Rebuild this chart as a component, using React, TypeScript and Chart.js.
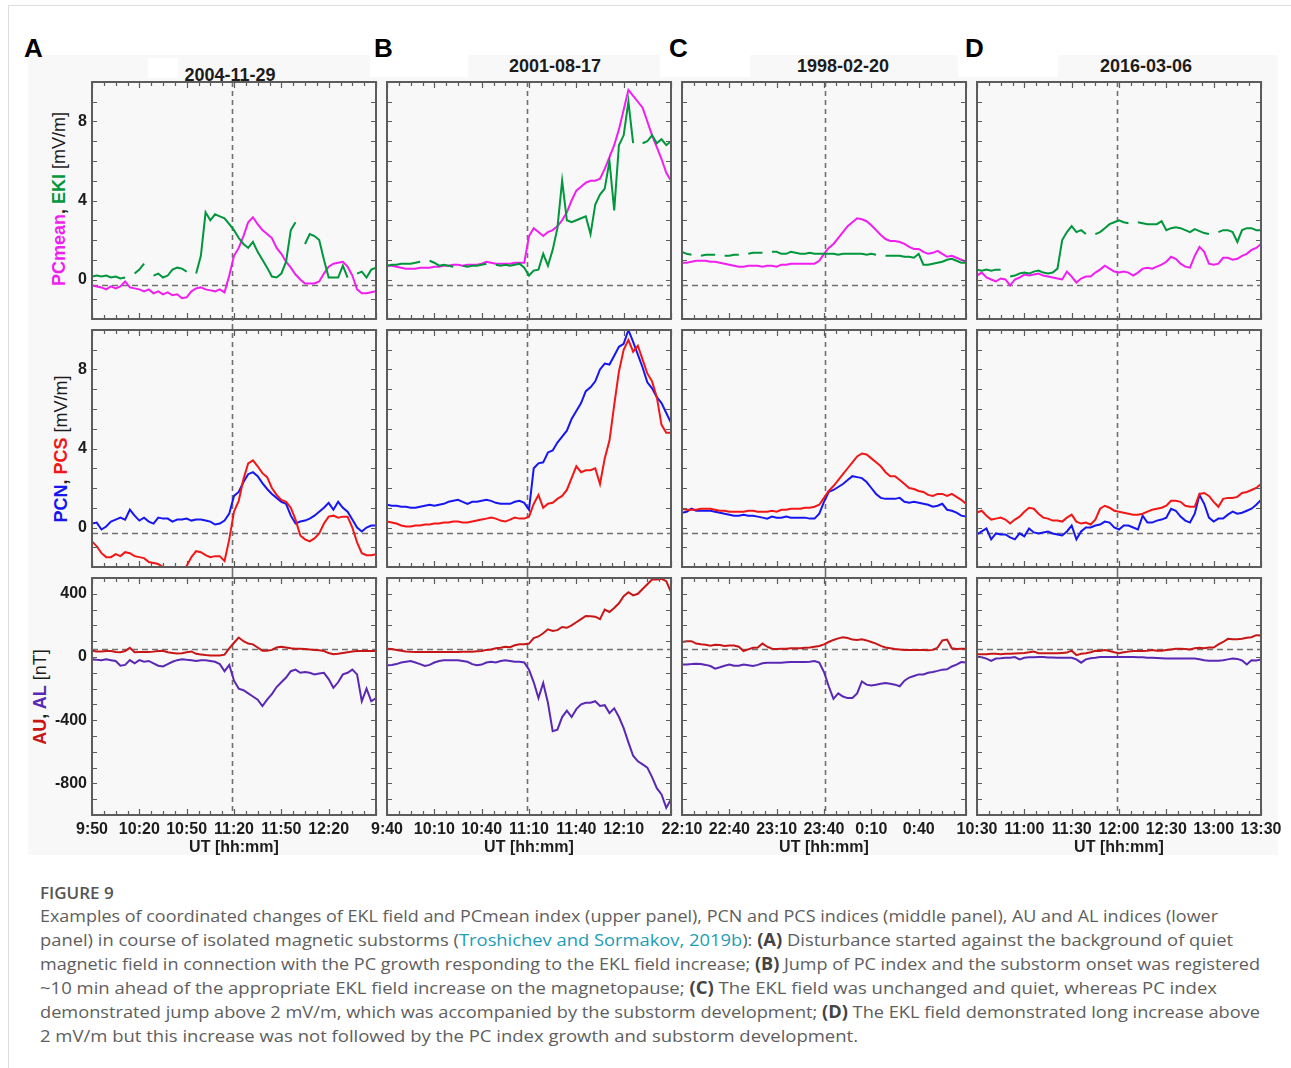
import React, { useEffect, useLayoutEffect, useRef } from 'react';
import { Chart, registerables } from 'chart.js';

Chart.register(...registerables);
Chart.defaults.font.family = "'Liberation Sans', Arial, Helvetica, sans-serif";

// ---------- sampling of every series ----------
const STEP_MIN = 3; // minutes between samples
const SPAN_MIN = 180; // each panel covers three hours
const LABEL_STEP_MIN = 30;
const MINOR_TICK_MIN = 7.5;

// ---------- per-event labels ----------
const panelLetters = ['A', 'B', 'C', 'D'];
const eventDates = ['2004-11-29', '2001-08-17', '1998-02-20', '2016-03-06'];
const timeLabelsA = ['9:50', '10:20', '10:50', '11:20', '11:50', '12:20', ''];
const timeLabelsB = ['9:40', '10:10', '10:40', '11:10', '11:40', '12:10', ''];
const timeLabelsC = ['22:10', '22:40', '23:10', '23:40', '0:10', '0:40', ''];
const timeLabelsD = ['10:30', '11:00', '11:30', '12:00', '12:30', '13:00', '13:30'];
const timeLabels = [timeLabelsA, timeLabelsB, timeLabelsC, timeLabelsD];
// substorm onset, minutes after the start of each window
const onsetMinutes = [89, 89, 90.5, 89];

// ---------- y axes ----------
const fieldTickLabels = [0, 4, 8];
const nTTickLabels = [400, 0, -400, -800];
const fieldAxis = { min: -2, max: 10, step: 1, baseline: -0.3 };
const nTAxis = { min: -1000, max: 500, step: 100, baseline: 50 };

// ---------- upper panels: PCmean and EKl [mV/m] ----------
const pcMeanA = [
  -0.3, -0.35, -0.4, -0.5, -0.35, -0.45, -0.35, -0.1, -0.4, -0.45,
  -0.5, -0.6, -0.5, -0.7, -0.6, -0.75, -0.65, -0.8, -0.75, -0.95,
  -0.9, -0.6, -0.45, -0.4, -0.5, -0.55, -0.6, -0.5, -0.65, 0.2,
  1.2, 1.6, 2.2, 2.9, 3.15, 2.8, 2.5, 2.3, 2.1, 1.6,
  1.3, 0.9, 0.6, 0.25, 0.0, -0.2, -0.2, -0.2, -0.1, 0.3,
  0.65, 0.8, 0.85, 0.9, 0.65, 0.2, -0.5, -0.7, -0.7, -0.65,
  -0.6,
];
const eklA = [
  0.15, 0.2, 0.15, 0.2, 0.1, 0.15, 0.05, 0.1, null, 0.3,
  0.5, 0.8, null, 0.2, 0.3, 0.1, 0.2, 0.5, 0.6, 0.55,
  0.4, null, 0.3, 1.2, 3.4, 3.0, 3.3, 3.2, 3.1, 2.8,
  2.5, 2.1, 1.8, 1.6, 1.9, 1.4, 1.0, 0.6, 0.15, 0.1,
  0.3, 0.9, 2.5, 2.9, null, 1.8, 2.3, 2.2, 2.0, 1.0,
  0.1, 0.1, 0.1, 0.7, 0.1, null, 0.3, 0.4, 0.1, 0.5,
  0.6,
];
const pcMeanB = [
  0.7, 0.7, 0.65, 0.6, 0.55, 0.55, 0.55, 0.6, 0.6, 0.6,
  0.65, 0.65, 0.7, 0.7, 0.75, 0.75, 0.7, 0.75, 0.75, 0.75,
  0.8, 0.9, 0.85, 0.8, 0.8, 0.8, 0.8, 0.85, 0.85, 0.85,
  2.2, 2.6, 2.4, 2.2, 2.4, 2.5, 2.7, 3.0, 3.4, 4.0,
  4.5, 4.7, 4.9, 5.0, 5.0, 5.1, 5.6, 6.2, 6.8, 7.6,
  8.6, 9.6, 9.3, 9.0, 8.7, 8.0, 7.3, 6.7, 6.1, 5.4,
  5.0,
];
const eklB = [
  0.7, 0.75, 0.75, 0.8, 0.8, 0.8, 0.85, 0.9, null, 0.95,
  0.85, 0.7, 0.75, 0.7, 0.65, null, 0.7, 0.65, 0.7, 0.7,
  0.75, 0.8, null, 0.75, 0.7, 0.75, 0.7, 0.75, 0.8, 0.6,
  0.2, 0.45, 0.5, 1.3, 0.7, 1.5, 2.6, 5.0, 3.0, 2.9,
  3.0, 3.1, 3.2, 2.3, 3.8, 4.3, 4.6, 6.0, 3.5, 6.8,
  7.3, 9.0, 6.9, null, 6.9, 7.0, 7.3, 6.9, 7.1, 6.8,
  7.0,
];
const pcMeanC = [
  0.85, 0.85, 0.9, 0.95, 0.95, 0.95, 0.9, 0.9, 0.85, 0.8,
  0.75, 0.7, 0.65, 0.65, 0.7, 0.7, 0.7, 0.65, 0.7, 0.7,
  0.65, 0.75, 0.75, 0.8, 0.8, 0.8, 0.8, 0.8, 0.8, 0.95,
  1.3, 1.6, 1.8, 2.1, 2.4, 2.7, 2.9, 3.1, 3.05, 2.95,
  2.75, 2.5, 2.25, 2.05, 1.95, 1.95, 1.9, 1.8, 1.65, 1.55,
  1.55, 1.4, 1.3, 1.35, 1.45, 1.3, 1.15, 1.2, 1.1, 1.0,
  0.9,
];
const eklC = [
  1.4, 1.3, 1.25, null, 1.2, 1.25, 1.25, 1.25, null, 1.2,
  1.2, 1.25, 1.25, null, 1.3, 1.35, 1.35, 1.35, null, 1.4,
  1.4, 1.3, 1.3, 1.4, 1.35, 1.3, 1.3, 1.35, 1.3, 1.3,
  1.3, 1.3, 1.3, 1.25, 1.3, 1.3, 1.3, 1.3, 1.3, 1.25,
  1.3, 1.25, null, 1.2, 1.2, 1.2, 1.2, 1.15, 1.15, 1.1,
  1.3, 0.75, 0.75, 0.8, 0.85, 0.9, 1.0, 1.05, 0.95, 0.85,
  0.85,
];
const pcMeanD = [
  0.2, 0.35, 0.1, 0.0, -0.1, 0.05, 0.0, -0.3, 0.0, 0.1,
  0.25, 0.2, 0.25, 0.3, 0.2, 0.15, 0.1, 0.05, 0.0, 0.4,
  0.15, -0.15, 0.05, 0.15, 0.15, 0.35, 0.5, 0.7, 0.55, 0.4,
  0.35, 0.4, 0.35, 0.2, 0.35, 0.55, 0.6, 0.55, 0.65, 0.75,
  0.9, 1.15, 1.05, 0.8, 0.65, 0.6, 1.2, 1.65, 1.4, 0.8,
  0.75, 0.8, 1.1, 1.1, 1.0, 1.05, 1.2, 1.3, 1.5, 1.6,
  1.8,
];
const eklD = [
  0.5, 0.45, 0.5, 0.45, 0.5, 0.5, null, 0.15, 0.2, 0.3,
  0.35, 0.3, 0.4, 0.45, 0.35, 0.3, 0.35, 0.55, 2.0, 2.4,
  2.7, 2.4, 2.5, 2.3, null, 2.3, 2.4, 2.6, 2.8, 2.9,
  3.0, 2.9, 2.85, null, 2.9, 2.85, 2.8, 2.8, 2.8, 2.95,
  2.5, 2.6, 2.65, 2.6, 2.5, 2.4, 2.55, 2.45, 2.35, 2.3,
  null, 2.4, 2.5, 2.5, 2.4, 1.9, 2.5, 2.6, 2.6, 2.5,
  2.5,
];

// ---------- middle panels: PCN and PCS [mV/m] ----------
const pcnA = [
  0.2, 0.25, -0.1, 0.05, 0.3, 0.4, 0.5, 0.4, 0.9, 0.6,
  0.35, 0.5, 0.3, 0.2, 0.5, 0.45, 0.45, 0.3, 0.4, 0.4,
  0.45, 0.35, 0.4, 0.4, 0.35, 0.3, 0.15, 0.2, 0.35, 0.7,
  1.6, 1.8, 2.3, 2.7, 2.8, 2.6, 2.25, 1.95, 1.7, 1.5,
  1.3, 1.2, 0.6, 0.2, 0.3, 0.35, 0.45, 0.6, 0.8, 1.0,
  1.25, 0.9, 1.3, 1.0, 0.8, 0.4, 0.0, -0.2, 0.0, 0.1,
  0.1,
];
const pcsA = [
  -0.7, -0.95, -1.3, -1.5, -1.5, -1.35, -1.45, -1.25, -1.3, -1.45,
  -1.5, -1.55, -1.75, -1.8, -1.85, -2.0, -2.1, -2.15, -2.15, -2.2,
  -1.95, -1.5, -1.2, -1.25, -1.4, -1.5, -1.45, -1.45, -1.7, -0.6,
  0.8, 1.35, 2.45, 3.25, 3.4, 3.1, 2.75, 2.55, 2.0, 1.65,
  1.4, 1.3, 1.0, 0.4, -0.4, -0.6, -0.7, -0.55, -0.3, 0.2,
  0.55, 0.6, 0.5, 0.55, 0.55, 0.0, -0.75, -1.3, -1.4, -1.4,
  -1.35,
];
const pcnB = [
  1.15, 1.1, 1.1, 1.05, 1.05, 1.0, 1.0, 1.05, 1.1, 1.15,
  1.1, 1.15, 1.2, 1.3, 1.35, 1.4, 1.3, 1.2, 1.3, 1.3,
  1.35, 1.4, 1.35, 1.25, 1.2, 1.2, 1.2, 1.3, 1.35, 1.25,
  0.9, 3.0, 3.25, 3.3, 3.8, 3.9, 4.3, 4.6, 4.9, 5.5,
  5.9, 6.3, 6.9, 7.1, 7.4, 8.0, 8.3, 8.25, 8.7, 9.15,
  9.3, 10.0, 9.4, 8.75, 8.1, 7.35, 7.05, 6.6, 6.3, 5.8,
  5.3,
];
const pcsB = [
  0.3, 0.25, 0.2, 0.1, 0.05, 0.05, 0.1, 0.1, 0.15, 0.15,
  0.2, 0.2, 0.25, 0.25, 0.3, 0.3, 0.25, 0.25, 0.3, 0.35,
  0.4, 0.45, 0.5, 0.45, 0.35, 0.3, 0.4, 0.5, 0.45, 0.45,
  0.55, 1.2, 1.65, 1.0, 1.2, 1.25, 1.45, 1.6, 1.9, 2.5,
  3.1, 2.8, 2.9, 2.9, 3.0, 2.2, 3.5, 4.4, 6.2, 7.9,
  9.0, 9.5, 8.9, 9.2, 8.5, 7.8, 7.4, 6.6, 5.2, 4.8,
  4.8,
];
const pcnC = [
  0.75, 0.8, 0.95, 0.85, 0.85, 0.85, 0.85, 0.8, 0.75, 0.7,
  0.65, 0.6, 0.6, 0.65, 0.6, 0.6, 0.55, 0.5, 0.45, 0.55,
  0.5, 0.5, 0.55, 0.5, 0.5, 0.5, 0.5, 0.45, 0.45, 0.7,
  1.3, 1.8, 1.9, 2.05, 2.2, 2.4, 2.6, 2.55, 2.5, 2.3,
  2.0, 1.7, 1.5, 1.45, 1.45, 1.45, 1.5, 1.3, 1.25, 1.3,
  1.25, 1.2, 1.15, 1.05, 1.1, 1.2, 0.9, 0.85, 0.75, 0.6,
  0.55,
];
const pcsC = [
  0.95, 0.9, 0.9, 0.9, 0.95, 0.95, 0.95, 0.9, 0.85, 0.85,
  0.8, 0.8, 0.8, 0.8, 0.85, 0.85, 0.8, 0.8, 0.8, 0.85,
  0.8, 0.9, 0.9, 0.95, 0.95, 0.95, 1.0, 1.0, 1.05, 1.15,
  1.5, 1.85, 2.1, 2.4, 2.7, 3.0, 3.3, 3.6, 3.75, 3.7,
  3.5, 3.3, 3.1, 2.8, 2.6, 2.6, 2.4, 2.2, 2.0, 1.95,
  1.85, 1.8, 1.65, 1.6, 1.7, 1.7, 1.6, 1.7, 1.55, 1.4,
  1.2,
];
const pcnD = [
  -0.35, -0.2, -0.05, -0.6, -0.3, -0.35, -0.35, -0.5, -0.6, -0.3,
  -0.45, -0.05, -0.25, -0.3, -0.25, -0.2, -0.3, -0.35, -0.4, -0.2,
  0.1, -0.6, -0.2, 0.0, 0.0, 0.1, 0.15, 0.3, 0.25, 0.0,
  -0.1, 0.1, 0.1, 0.0, -0.1, 0.6, 0.25, 0.25, 0.35, 0.4,
  0.5, 0.95, 0.85, 0.55, 0.35, 0.25, 0.7, 1.65, 1.2, 0.5,
  0.3, 0.45, 0.45, 0.65, 0.8, 0.7, 0.75, 0.85, 0.95, 1.15,
  1.4,
];
const pcsD = [
  0.75, 0.85, 0.6, 0.4, 0.45, 0.5, 0.4, 0.2, 0.4, 0.55,
  0.8, 1.0, 0.95, 0.7, 0.5, 0.45, 0.35, 0.35, 0.3, 0.5,
  0.65, 0.3, 0.2, 0.25, 0.15, 0.4, 0.95, 1.1, 1.0, 0.85,
  0.8, 0.75, 0.7, 0.65, 0.65, 0.7, 0.8, 0.9, 0.95, 1.0,
  1.1, 1.35, 1.35, 1.3, 1.1, 1.05, 1.05, 1.7, 1.75, 1.6,
  1.3, 1.05, 1.45, 1.5, 1.5, 1.55, 1.75, 1.8, 1.9, 2.0,
  2.2,
];

// ---------- lower panels: AU and AL [nT] ----------
const auA = [
  40, 35, 35, 38, 38, 32, 30, 38, 58, 30,
  32, 32, 32, 34, 38, 40, 30, 26, 22, 24,
  30, 35, 20, 16, 12, 10, 10, 10, 15, 55,
  90, 123, 100, 85, 80, 60, 40, 40, 45, 60,
  65, 60, 55, 52, 52, 50, 48, 45, 42, 38,
  25, 18, 20, 25, 30, 35, 38, 38, 38, 38,
  38,
];
const alA = [
  -15, -18, -20, -15, -20, -25, -55, -50, -20, -40,
  -20, -30, -25, -40, -55, -60, -45, -30, -20, -15,
  -18, -20, -25, -20, -20, -25, -30, -45, -90, -50,
  -150, -200, -210, -230, -250, -270, -310, -270, -235, -190,
  -160, -130, -90, -80, -100, -95, -100, -110, -105, -100,
  -140, -195, -160, -110, -100, -80, -110, -280, -200, -280,
  -260,
];
const auB = [
  52, 50, 45, 40, 35, 33, 32, 32, 32, 32,
  32, 32, 32, 32, 32, 32, 33, 33, 34, 36,
  38, 45, 48, 55, 58, 65, 62, 74, 80, 80,
  85, 120, 130, 150, 175, 165, 170, 190, 185, 200,
  220, 240, 260, 258, 255, 240, 300, 285, 310, 340,
  385, 410, 390, 400, 430, 460, 490, 490, 495, 480,
  410,
];
const alB = [
  -53, -50, -45, -35, -30, -25, -35, -45, -57, -50,
  -35, -25, -20, -20, -20, -20, -25, -30, -45, -52,
  -48, -35, -30, -35, -25, -20, -25, -30, -30, -35,
  -80, -160, -260, -165, -290, -470, -460, -380, -340, -380,
  -330, -300, -290, -290, -280, -310, -305, -355, -325, -380,
  -450, -540, -625, -660, -680, -700, -760, -830, -870, -955,
  -900,
];
const auC = [
  95, 100, 100, 85, 80, 78, 72, 78, 76, 70,
  72, 72, 65, 38, 48, 58, 60, 85, 65, 52,
  50, 52, 52, 55, 55, 55, 58, 60, 65, 70,
  80, 95, 108, 118, 125, 120, 110, 108, 112, 105,
  95, 85, 70, 60, 55, 50, 48, 45, 45, 45,
  45, 45, 42, 45, 60, 105, 110, 55, 50, 52,
  52,
];
const alC = [
  -47, -47, -45, -42, -45, -50, -57, -74, -65, -55,
  -47, -55, -55, -47, -52, -57, -50, -40, -36, -36,
  -36, -36, -33, -32, -32, -32, -32, -30, -25, -35,
  -95, -185, -265, -230, -250, -260, -260, -230, -155, -175,
  -180, -175, -170, -165, -170, -175, -185, -150, -130, -120,
  -110, -110, -100, -95, -88, -80, -78, -60, -48, -32,
  -35,
];
const auD = [
  17, 17, 17, 20, 20, 18, 20, 20, 22, 24,
  26, 30, 35, 24, 24, 24, 24, 24, 26, 28,
  40, 12, 20, 24, 30, 40, 38, 44, 38, 30,
  24, 30, 34, 38, 38, 38, 40, 44, 40, 40,
  44, 48, 52, 52, 50, 48, 55, 58, 55, 60,
  60, 80, 95, 115, 112, 112, 115, 122, 125, 138,
  136,
];
const alD = [
  2, -2, -10, -25, -10, -8, -5, -5, 0, -15,
  -5, -2, -2, 0, 0, -3, -3, -5, -5, -5,
  -5, -15, -36, -15, -8, -5, 0, 0, 0, 0,
  0, 0, 0, 0, -2, -2, -4, -4, -6, -8,
  -10, -10, -10, -10, -10, -10, -10, -14, -20, -24,
  -24, -24, -20, -15, -10, -12, -22, -47, -20, -22,
  -15,
];

// ---------- styling ----------
const COLOR = {
  pcMean: '#f01ef0',
  ekl: '#00963c',
  pcn: '#1616f2',
  pcs: '#f21616',
  au: '#c81616',
  al: '#5a28b4',
  text: '#1c1c1c',
  dash: '#707070',
  frame: '#5c5c5c',
  figureBg: '#f8f8f8',
};

const TICK_FONT = { family: "'Liberation Sans', Arial, sans-serif", size: 16, weight: 'bold' as const };

// panel geometry (plot-area rectangles on the page)
const PLOT_LEFT = [92, 387, 682, 977];
const PLOT_TOP = [82, 330, 578];
const PLOT_W = 284;
const PLOT_H = 237;

// which series go in each row and column (first one is drawn on top)
const panelSeries = [
  [
    [{ values: eklA, color: COLOR.ekl }, { values: pcMeanA, color: COLOR.pcMean }],
    [{ values: eklB, color: COLOR.ekl }, { values: pcMeanB, color: COLOR.pcMean }],
    [{ values: eklC, color: COLOR.ekl }, { values: pcMeanC, color: COLOR.pcMean }],
    [{ values: eklD, color: COLOR.ekl }, { values: pcMeanD, color: COLOR.pcMean }],
  ],
  [
    [{ values: pcsA, color: COLOR.pcs }, { values: pcnA, color: COLOR.pcn }],
    [{ values: pcsB, color: COLOR.pcs }, { values: pcnB, color: COLOR.pcn }],
    [{ values: pcsC, color: COLOR.pcs }, { values: pcnC, color: COLOR.pcn }],
    [{ values: pcsD, color: COLOR.pcs }, { values: pcnD, color: COLOR.pcn }],
  ],
  [
    [{ values: auA, color: COLOR.au }, { values: alA, color: COLOR.al }],
    [{ values: auB, color: COLOR.au }, { values: alB, color: COLOR.al }],
    [{ values: auC, color: COLOR.au }, { values: alC, color: COLOR.al }],
    [{ values: auD, color: COLOR.au }, { values: alD, color: COLOR.al }],
  ],
];

// Frame, inward tick marks and dashed reference lines of one panel.
const panelFrame = {
  id: 'panelFrame',
  beforeDraw(chart: any, _args: any, opts: any) {
    const { ctx, chartArea: a } = chart;
    ctx.save();
    ctx.fillStyle = opts.background;
    ctx.fillRect(a.left, a.top, a.right - a.left, a.bottom - a.top);
    ctx.restore();
  },
  beforeDatasetsDraw(chart: any, _args: any, opts: any) {
    const { ctx, chartArea: a, scales } = chart;
    const x = scales.x;
    const y = scales.y;
    ctx.save();
    ctx.strokeStyle = opts.dashColor;
    ctx.lineWidth = 1.6;
    ctx.setLineDash([6, 4]);
    const yb = Math.round(y.getPixelForValue(opts.baseline)) + 0.5;
    ctx.beginPath();
    ctx.moveTo(a.left, yb);
    ctx.lineTo(a.right, yb);
    ctx.stroke();
    ctx.setLineDash([5, 4]);
    const xo = Math.round(x.getPixelForValue(opts.onset)) + 0.5;
    ctx.beginPath();
    ctx.moveTo(xo, a.top - opts.extendTop);
    ctx.lineTo(xo, a.bottom + opts.extendBottom);
    ctx.stroke();
    ctx.restore();
  },
  afterDatasetsDraw(chart: any, _args: any, opts: any) {
    const { ctx, chartArea: a, scales } = chart;
    const x = scales.x;
    const y = scales.y;
    ctx.save();
    ctx.strokeStyle = opts.frameColor;
    ctx.lineWidth = 1.2;
    ctx.beginPath();
    for (let m = x.min; m <= x.max + 1e-6; m += opts.minorStep) {
      const px = Math.round(x.getPixelForValue(m)) + 0.5;
      const len = Math.abs(m % opts.majorStep) < 1e-6 ? 6 : 4;
      ctx.moveTo(px, a.top);
      ctx.lineTo(px, a.top + len);
      ctx.moveTo(px, a.bottom);
      ctx.lineTo(px, a.bottom - len);
    }
    for (let v = y.min; v <= y.max + 1e-6; v += opts.yStep) {
      const py = Math.round(y.getPixelForValue(v)) + 0.5;
      ctx.moveTo(a.left, py);
      ctx.lineTo(a.left + 5, py);
      ctx.moveTo(a.right, py);
      ctx.lineTo(a.right - 5, py);
    }
    ctx.stroke();
    ctx.lineWidth = 2;
    ctx.strokeRect(a.left, a.top, a.right - a.left, a.bottom - a.top);
    ctx.restore();
  },
};

function Panel({ col, row }: { col: number; row: number }) {
  const ref = useRef<HTMLCanvasElement>(null);
  const isLeft = col === 0;
  const isBottom = row === 2;
  const yAxisW = isLeft ? 44 : 0;
  const xAxisH = isBottom ? 44 : 0;
  const padL = 24;
  const padR = 24;
  const padT = row === 0 ? 2 : 6;
  const padB = isBottom ? 4 : 6;
  const width = padL + yAxisW + PLOT_W + padR;
  const height = padT + PLOT_H + xAxisH + padB;
  const left = PLOT_LEFT[col] - yAxisW - padL;
  const top = PLOT_TOP[row] - padT;

  useEffect(() => {
    if (!ref.current) return;
    const axis = isBottom ? nTAxis : fieldAxis;
    const tickLabels = isBottom ? nTTickLabels : fieldTickLabels;
    const labels = timeLabels[col];
    const chart = new Chart(ref.current, {
      type: 'line',
      data: {
        datasets: panelSeries[row][col].map((s) => ({
          data: s.values.map((v, i) => ({ x: i * STEP_MIN, y: v })),
          borderColor: s.color,
          backgroundColor: s.color,
          borderWidth: 2,
          pointRadius: 0,
          fill: false,
          tension: 0,
          spanGaps: false,
        })),
      },
      options: {
        animation: false,
        responsive: false,
        devicePixelRatio: 1,
        events: [],
        layout: { padding: { left: padL, right: padR, top: padT, bottom: padB } },
        plugins: {
          legend: { display: false },
          tooltip: { enabled: false },
          panelFrame: {
            background: COLOR.figureBg,
            dashColor: COLOR.dash,
            frameColor: COLOR.frame,
            baseline: axis.baseline,
            onset: onsetMinutes[col],
            extendTop: row === 0 ? 0 : 6,
            extendBottom: row === 2 ? 0 : 6,
            minorStep: MINOR_TICK_MIN,
            majorStep: LABEL_STEP_MIN,
            yStep: axis.step,
          },
        } as any,
        scales: {
          x: {
            type: 'linear',
            min: 0,
            max: SPAN_MIN,
            afterFit: (s: any) => {
              s.height = xAxisH;
              s.paddingLeft = 0;
              s.paddingRight = 0;
              s.paddingTop = 0;
              s.paddingBottom = 0;
            },
            grid: { display: false, drawTicks: false },
            border: { display: false },
            ticks: {
              display: isBottom,
              stepSize: LABEL_STEP_MIN,
              autoSkip: false,
              maxRotation: 0,
              minRotation: 0,
              padding: 5,
              color: COLOR.text,
              font: TICK_FONT,
              callback: (v: any) => labels[Math.round(Number(v) / LABEL_STEP_MIN)] ?? '',
            },
            title: {
              display: isBottom,
              text: 'UT [hh:mm]',
              color: COLOR.text,
              font: TICK_FONT,
              padding: { top: 0, bottom: 2 },
            },
          },
          y: {
            type: 'linear',
            min: axis.min,
            max: axis.max,
            afterFit: (s: any) => {
              s.width = yAxisW;
              s.paddingLeft = 0;
              s.paddingRight = 0;
              s.paddingTop = 0;
              s.paddingBottom = 0;
            },
            grid: { display: false, drawTicks: false },
            border: { display: false },
            ticks: {
              display: isLeft,
              stepSize: axis.step,
              autoSkip: false,
              padding: 5,
              color: COLOR.text,
              font: TICK_FONT,
              callback: (v: any) => (tickLabels.includes(Number(v)) ? String(v) : ''),
            },
          },
        } as any,
      },
      plugins: [panelFrame as any],
    });
    return () => chart.destroy();
  }, []);

  return (
    <canvas
      ref={ref}
      width={width}
      height={height}
      style={{ position: 'absolute', left, top, width, height }}
    />
  );
}

// Caption line, stretched to its measured column width.
function CaptionLine({ top, width, children }: { top: number; width: number; children: any }) {
  const ref = useRef<HTMLDivElement>(null);
  useLayoutEffect(() => {
    const el = ref.current;
    if (!el) return;
    el.style.transform = 'none';
    const w = el.getBoundingClientRect().width;
    if (w > 0) el.style.transform = `scaleX(${width / w})`;
  }, [width]);
  return (
    <div
      ref={ref}
      style={{
        position: 'absolute',
        left: 40,
        top,
        whiteSpace: 'nowrap',
        transformOrigin: '0 0',
        lineHeight: '24px',
        fontSize: 17,
        color: '#5e5e5e',
        fontFamily: "'Open Sans', 'Noto Sans', sans-serif",
      }}
    >
      {children}
    </div>
  );
}

const B = ({ children }: { children: any }) => <b style={{ fontWeight: 700, color: '#444' }}>{children}</b>;

const titleCenters = [
  { x: 230, y: 75 },
  { x: 555, y: 66 },
  { x: 843, y: 66 },
  { x: 1146, y: 66 },
];
const letterLeft = [24, 374, 669, 965];
const whiteBoxes = [
  { x: 148, y: 58, w: 30, h: 20 },
  { x: 370, y: 55, w: 98, h: 22 },
  { x: 660, y: 55, w: 90, h: 22 },
  { x: 958, y: 55, w: 100, h: 22 },
];

function RotatedLabel({ cx, cy, children }: { cx: number; cy: number; children: any }) {
  return (
    <div
      style={{
        position: 'absolute',
        left: cx,
        top: cy,
        transform: 'translate(-50%, -50%) rotate(-90deg)',
        whiteSpace: 'nowrap',
        fontSize: 18,
        fontWeight: 700,
        lineHeight: '20px',
        color: COLOR.text,
      }}
    >
      {children}
    </div>
  );
}

export default function App() {
  const cells: any[] = [];
  for (let r = 0; r < 3; r++) for (let c = 0; c < 4; c++) cells.push(<Panel key={`${r}-${c}`} col={c} row={r} />);

  return (
    <div
      style={{
        position: 'absolute',
        left: 0,
        top: 0,
        width: 1291,
        height: 1068,
        overflow: 'hidden',
        background: '#fff',
        fontFamily: "'Liberation Sans', Arial, sans-serif",
      }}
    >
      <div
        style={{
          position: 'absolute',
          left: 8,
          top: 5,
          width: 1300,
          height: 1100,
          borderLeft: '1px solid #dddddd',
          borderTop: '1px solid #dddddd',
        }}
      />
      <div style={{ position: 'absolute', left: 28, top: 55, width: 1250, height: 800, background: COLOR.figureBg }} />
      {whiteBoxes.map((b, i) => (
        <div key={i} style={{ position: 'absolute', left: b.x, top: b.y, width: b.w, height: b.h, background: '#fff' }} />
      ))}

      {panelLetters.map((l, i) => (
        <div
          key={l}
          style={{
            position: 'absolute',
            left: letterLeft[i],
            top: 35,
            fontSize: 26,
            fontWeight: 700,
            lineHeight: '26px',
            color: '#000',
          }}
        >
          {l}
        </div>
      ))}
      {eventDates.map((d, i) => (
        <div
          key={d}
          style={{
            position: 'absolute',
            left: titleCenters[i].x,
            top: titleCenters[i].y,
            transform: 'translate(-50%, -50%)',
            fontSize: 18,
            fontWeight: 700,
            lineHeight: '20px',
            color: COLOR.text,
            whiteSpace: 'nowrap',
          }}
        >
          {d}
        </div>
      ))}

      <RotatedLabel cx={59} cy={199}>
        <span style={{ color: COLOR.pcMean }}>PCmean</span>
        <span>, </span>
        <span style={{ color: COLOR.ekl }}>EKl</span>
        <span style={{ fontWeight: 400 }}> [mV/m]</span>
      </RotatedLabel>
      <RotatedLabel cx={61} cy={449}>
        <span style={{ color: COLOR.pcn }}>PCN</span>
        <span>, </span>
        <span style={{ color: COLOR.pcs }}>PCS</span>
        <span style={{ fontWeight: 400 }}> [mV/m]</span>
      </RotatedLabel>
      <RotatedLabel cx={40} cy={697}>
        <span style={{ color: COLOR.au }}>AU</span>
        <span>, </span>
        <span style={{ color: COLOR.al }}>AL</span>
        <span style={{ fontWeight: 400 }}> [nT]</span>
      </RotatedLabel>

      {cells}

      <div
        style={{
          position: 'absolute',
          left: 40,
          top: 881,
          fontSize: 17,
          lineHeight: '24px',
          fontWeight: 600,
          color: '#555',
          fontFamily: "'Open Sans', 'Noto Sans', sans-serif",
        }}
      >
        FIGURE 9
      </div>
      <CaptionLine top={904} width={1178}>
        Examples of coordinated changes of EKL field and PCmean index (upper panel), PCN and PCS indices (middle panel), AU and AL indices (lower
      </CaptionLine>
      <CaptionLine top={928} width={1193}>
        panel) in course of isolated magnetic substorms (
        <span style={{ color: '#1b9db3' }}>Troshichev and Sormakov, 2019b</span>): <B>(A)</B> Disturbance started against the
        background of quiet
      </CaptionLine>
      <CaptionLine top={952} width={1220}>
        magnetic field in connection with the PC growth responding to the EKL field increase; <B>(B)</B> Jump of PC index and the
        substorm onset was registered
      </CaptionLine>
      <CaptionLine top={976} width={1177}>
        ~10 min ahead of the appropriate EKL field increase on the magnetopause; <B>(C)</B> The EKL field was unchanged and quiet,
        whereas PC index
      </CaptionLine>
      <CaptionLine top={1000} width={1220}>
        demonstrated jump above 2 mV/m, which was accompanied by the substorm development; <B>(D)</B> The EKL field demonstrated long
        increase above
      </CaptionLine>
      <CaptionLine top={1024} width={818}>
        2 mV/m but this increase was not followed by the PC index growth and substorm development.
      </CaptionLine>
    </div>
  );
}
